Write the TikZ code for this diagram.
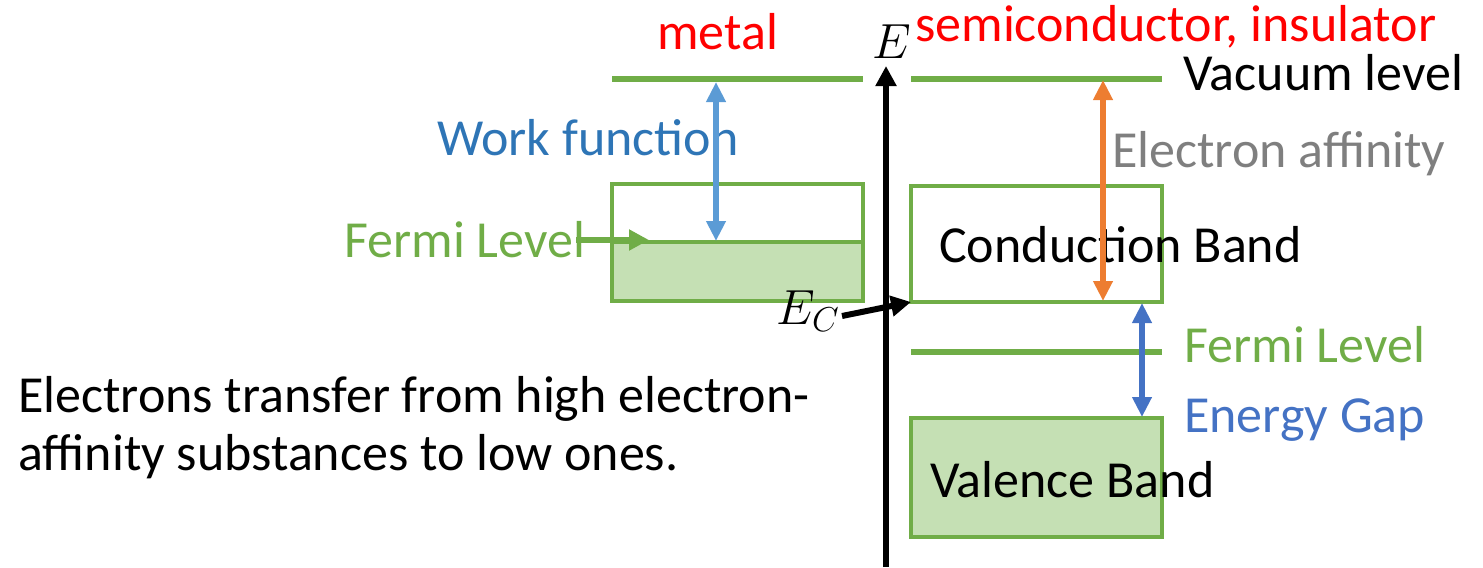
\RequirePackage{fix-cm}
\documentclass[tikz,border=0pt]{standalone}
\usepackage{fontspec}
\setmainfont{Carlito}
\usetikzlibrary{arrows.meta}
\definecolor{lgreen}{HTML}{70AD47}
\definecolor{fillg}{HTML}{C5E0B4}
\definecolor{wfblue}{HTML}{5B9BD5}
\definecolor{wftext}{HTML}{2E75B6}
\definecolor{gapblue}{HTML}{4472C4}
\definecolor{orng}{HTML}{ED7D31}
\definecolor{gry}{HTML}{7F7F7F}
\tikzset{
  lvl/.style={draw=lgreen, line width=5pt},
  band/.style={draw=lgreen, line width=3pt},
  dbl/.style={line width=4.5pt, {Triangle[width=14pt,length=15pt]}-{Triangle[width=14pt,length=15pt]}},
  sgl/.style={line width=4.5pt, -{Triangle[width=15pt,length=15pt]}},
  txt/.style={font=\fontsize{39}{43.5}\selectfont, inner sep=0pt, anchor=base west},
  mth/.style={font=\fontsize{37}{40}\selectfont, inner sep=0pt, anchor=base west},
}
\begin{document}
\begin{tikzpicture}[x=0.75pt,y=-0.75pt]
\useasboundingbox (0,0) rectangle (1483,567);
% metal
\coordinate (mvl) at (612,79); \coordinate (mvr) at (863,79);
\draw[lvl] (mvl) -- (mvr);
\fill[fillg] (612,242) rectangle (863,301);
\draw[band] (612,184) rectangle (863,301);
\coordinate (mfl) at (612,242); \coordinate (mfr) at (863,242);
\draw[band] (mfl) -- (mfr);
\node[txt, text=red] (metal) at (657,50) {metal};
\node[txt, text=wftext] (wf) at (437,155) {Work function};
\coordinate (wft) at (716,82); \coordinate (wfb) at (716,241);
\draw[dbl, wfblue] (wft) -- (wfb);
\node[txt, text=lgreen] (fl1) at (344,257) {Fermi Level};
\coordinate (fa1) at (576,240); \coordinate (fa2) at (649,240);
\draw[sgl, lgreen, line width=4pt] (fa1) -- (fa2);
% axis
\coordinate (ax0) at (886,567); \coordinate (ax1) at (886,66);
\draw[sgl, black] (ax0) -- (ax1);
\node[mth] (E) at (872,59) {$E$};
% semiconductor
\coordinate (svl) at (911,79); \coordinate (svr) at (1162,79);
\draw[lvl] (svl) -- (svr);
\draw[band] (911,186) rectangle (1162,302);
\node[txt] (cb) at (939,262) {Conduction Band};
\coordinate (sfl) at (911,352); \coordinate (sfr) at (1162,352);
\draw[lvl] (sfl) -- (sfr);
\draw[band, fill=fillg] (911,418) rectangle (1162,537);
\node[txt] (vb) at (930,497) {Valence Band};
\coordinate (eat) at (1103,80); \coordinate (eab) at (1103,301);
\draw[dbl, orng] (eat) -- (eab);
\coordinate (egt) at (1142,303); \coordinate (egb) at (1142,417);
\draw[dbl, gapblue] (egt) -- (egb);
\node[txt, text=red, text depth=0pt] (sc) at (915,41) {semiconductor, insulator};
\node[txt, text height=20pt] (vac) at (1183,90) {Vacuum level};
\node[txt, text=gry] (ea) at (1112,167) {Electron affinity};
\node[txt, text=lgreen] (fl2) at (1184,362) {Fermi Level};
\node[txt, text=gapblue] (eg) at (1184,432) {Energy Gap};
% E_C
\node[mth] (ec) at (776,324) {$E_C$};
\coordinate (ec1) at (842,316); \coordinate (ec2) at (911,302);
\draw[sgl, black] (ec1) -- (ec2);
% text
\node[txt] (note) at (18,412) {Electrons transfer from high electron-};
\node[txt] (note2) at (18,470) {affinity substances to low ones.};
\end{tikzpicture}
\end{document}
